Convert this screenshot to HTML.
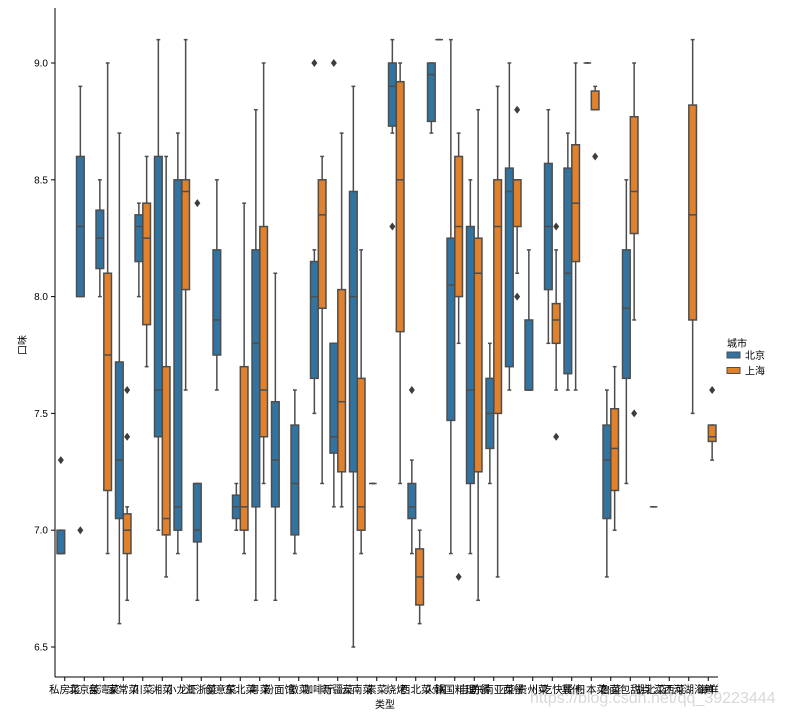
<!DOCTYPE html>
<html><head><meta charset="utf-8"><style>
html,body{margin:0;padding:0;background:#fff;}
svg{display:block;font-family:"Liberation Sans","Noto Sans CJK SC",sans-serif;}
</style></head><body>
<svg id="chart" width="785" height="717" viewBox="0 0 785 717" xmlns="http://www.w3.org/2000/svg">
<g id="marks"></g>
<g id="axes"></g>
<text x="530" y="703" font-size="16" fill="#d8d8d8">https://blog.csdn.net/qq_39223444</text>
</svg>
<script>
const categories = ["私房菜","北京菜","台湾菜","家常菜","川菜","湘菜","小龙虾","江浙菜","创意菜","东北菜","粤菜","粉面馆","徽菜","咖啡厅","新疆菜","云南菜","素菜","烧烤","西北菜","火锅","韩国料理","自助餐","东南亚菜","西餐","贵州菜","小吃快餐","其他","日本菜","鲁菜","面包甜点","湖北菜","江西菜","江河湖海鲜","海鲜"];
const yTicks = [6.5, 7.0, 7.5, 8.0, 8.5, 9.0];
const yTickLabels = ["6.5","7.0","7.5","8.0","8.5","9.0"];
const hueNames = ["北京","上海"];
// [lowWhisker, q1, median, q3, highWhisker] per category (null = no data)
const beijingStats = [
[6.9,6.9,6.9,7.0,7.0],[8.0,8.0,8.3,8.6,8.9],[8.0,8.12,8.25,8.37,8.5],[6.6,7.05,7.3,7.72,8.7],
[8.0,8.15,8.3,8.35,8.4],[7.0,7.4,7.6,8.6,9.1],[6.9,7.0,7.1,8.5,8.7],[6.7,6.95,7.0,7.2,7.2],
[7.6,7.75,7.9,8.2,8.5],[7.0,7.05,7.1,7.15,7.2],[6.7,7.1,7.8,8.2,8.8],[6.7,7.1,7.3,7.55,8.1],
[6.9,6.98,7.2,7.45,7.6],[7.5,7.65,8.0,8.15,8.2],[7.1,7.33,7.4,7.8,7.8],[6.5,7.25,8.0,8.45,8.9],
[7.2,7.2,7.2,7.2,7.2],[8.7,8.73,8.9,9.0,9.1],[6.9,7.05,7.1,7.2,7.3],[8.7,8.75,8.95,9.0,9.0],
[6.9,7.47,8.05,8.25,9.1],[6.9,7.2,7.6,8.3,8.5],[7.2,7.35,7.5,7.65,7.8],[7.6,7.7,8.45,8.55,9.0],
[7.6,7.6,7.6,7.9,8.2],[7.8,8.03,8.3,8.57,8.8],[7.6,7.67,8.1,8.55,8.7],[9.0,9.0,9.0,9.0,9.0],
[6.8,7.05,7.3,7.45,7.6],[7.2,7.65,7.95,8.2,8.5],null,null,null,null];
const beijingOutliers = [[7.3],[7.0],[],[],[],[],[],[8.4],[],[],[],[],[],[9.0],[9.0],[],[],[8.3],[7.6],[],[],[],[],[],[],[],[],[],[],[],[],[],[],[]];
const shanghaiStats = [
null,null,[6.9,7.17,7.75,8.1,9.0],[6.7,6.9,7.0,7.07,7.1],
[7.7,7.88,8.25,8.4,8.6],[6.8,6.98,7.05,7.7,8.6],[7.6,8.03,8.45,8.5,9.1],null,
null,[6.9,7.0,7.1,7.7,8.4],[7.2,7.4,7.6,8.3,9.0],null,
null,[7.2,7.95,8.35,8.5,8.6],[7.1,7.25,7.55,8.03,8.7],[6.9,7.0,7.1,7.65,8.2],
null,[7.2,7.85,8.5,8.92,9.0],[6.6,6.68,6.8,6.92,7.0],[9.1,9.1,9.1,9.1,9.1],
[7.8,8.0,8.3,8.6,8.7],[6.7,7.25,8.1,8.25,8.8],[6.8,7.5,8.3,8.5,8.9],[8.1,8.3,8.5,8.5,8.5],
null,[7.6,7.8,7.9,7.97,8.2],[7.6,8.15,8.4,8.65,9.0],[8.8,8.8,8.8,8.88,8.9],
[7.0,7.17,7.35,7.52,7.7],[7.9,8.27,8.45,8.77,9.0],[7.1,7.1,7.1,7.1,7.1],null,
[7.5,7.9,8.35,8.82,9.1],[7.3,7.38,7.4,7.45,7.45]];
const shanghaiOutliers = [[],[],[],[7.6,7.4],[],[],[],[],[],[],[],[],[],[],[],[],[],[],[],[],[6.8],[],[],[8.8,8.0],[],[8.3,7.4],[],[8.6],[],[7.5],[],[],[],[7.6]];

const NS="http://www.w3.org/2000/svg";
const X0=55, X1=718, Y_TOP=8, Y_BOT=677;
const step=(X1-X0)/categories.length;
function xScale(i){return X0+(i+0.5)*step;}
function yScale(v){return 63+(9-v)*233.6;}
function mk(tag,attrs,parent){const e=document.createElementNS(NS,tag);for(const k in attrs)e.setAttribute(k,attrs[k]);parent.appendChild(e);return e;}
const marks=document.getElementById('marks'), axes=document.getElementById('axes');
const colors=["#3274a1","#e1812c"], edge="#4d4d4d";
function drawSeries(stats,outs,hue){
  stats.forEach((s,i)=>{
    if(!s)return;
    const cx=xScale(i)+(hue===0?-0.2:0.2)*step, w=0.4*step*0.98;
    const g=mk('g',{},marks);
    
    
    mk('line',{x1:cx,x2:cx,y1:yScale(s[4]),y2:yScale(s[3]),stroke:edge,'stroke-width':1.5},g);
    mk('line',{x1:cx,x2:cx,y1:yScale(s[1]),y2:yScale(s[0]),stroke:edge,'stroke-width':1.5},g);
    mk('line',{x1:cx-w/4,x2:cx+w/4,y1:yScale(s[4]),y2:yScale(s[4]),stroke:edge,'stroke-width':1.5},g);
    mk('line',{x1:cx-w/4,x2:cx+w/4,y1:yScale(s[0]),y2:yScale(s[0]),stroke:edge,'stroke-width':1.5},g);
    mk('rect',{x:cx-w/2,y:yScale(s[3]),width:w,height:Math.max(0,yScale(s[1])-yScale(s[3])),fill:colors[hue],stroke:edge,'stroke-width':1.5},g);
    mk('line',{x1:cx-w/2,x2:cx+w/2,y1:yScale(s[2]),y2:yScale(s[2]),stroke:edge,'stroke-width':1.5},g);
    (outs[i]||[]).forEach(v=>{
      const p=mk('path',{d:`M${cx},${yScale(v)-4} L${cx+3},${yScale(v)} L${cx},${yScale(v)+4} L${cx-3},${yScale(v)} Z`,fill:'#3d3d3d'},g);
      
      
    });
  });
}
drawSeries(beijingStats,beijingOutliers,0);
drawSeries(shanghaiStats,shanghaiOutliers,1);
// axes
mk('line',{x1:X0,x2:X0,y1:Y_TOP,y2:Y_BOT,stroke:'#000','stroke-width':1},axes);
mk('line',{x1:X0,x2:X1,y1:Y_BOT,y2:Y_BOT,stroke:'#000','stroke-width':1},axes);
yTicks.forEach((v,i)=>{
  const y=yScale(v);
  mk('line',{x1:X0-4,x2:X0,y1:y,y2:y,stroke:'#000'},axes);
  const t=mk('text',{x:X0-7,y:y+3.5,'font-size':10,'text-anchor':'end'},axes);
  t.textContent=yTickLabels[i];
  
  
});
categories.forEach((c,i)=>{
  const x=xScale(i);
  mk('line',{x1:x,x2:x,y1:Y_BOT,y2:Y_BOT+4,stroke:'#000'},axes);
  const t=mk('text',{x:x,y:Y_BOT+16,'font-size':10.5,'text-anchor':'middle'},axes);
  t.textContent=c;
  
  
});
const xt=mk('text',{x:385,y:708,'font-size':10,'text-anchor':'middle'},axes);
xt.textContent='类型';


const yt=mk('text',{x:26,y:345,'font-size':10,'text-anchor':'middle',transform:'rotate(-90 26 345)'},axes);
yt.textContent='口味';


// legend
const lg=mk('g',{},axes);


const lt=mk('text',{x:727,y:347,'font-size':10},lg);
lt.textContent='城市';
hueNames.forEach((h,i)=>{
  const y=352+i*15.5;
  const e=mk('g',{},lg);
  
  
  mk('rect',{x:727,y:y,width:13,height:6,fill:colors[i],stroke:edge,'stroke-width':1},e);
  const t=mk('text',{x:745,y:y+7,'font-size':10},e);
  t.textContent=h;
});
</script>
</body></html>
